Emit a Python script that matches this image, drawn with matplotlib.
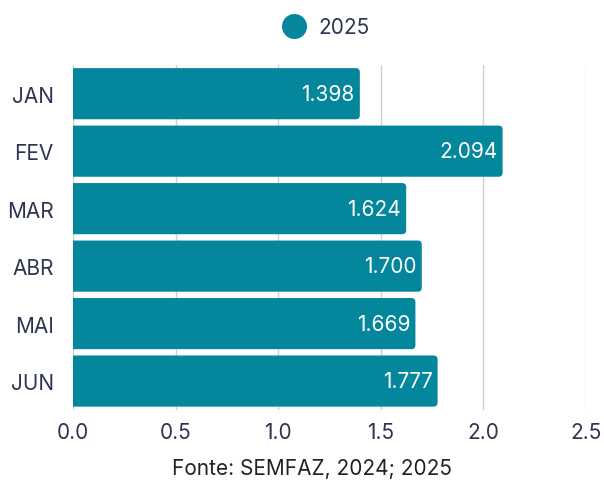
import matplotlib.pyplot as plt
from matplotlib.patches import FancyBboxPatch
from matplotlib.lines import Line2D

meses = ['JAN', 'FEV', 'MAR', 'ABR', 'MAI', 'JUN']
valores = [1.398, 2.094, 1.624, 1.700, 1.669, 1.777]
rotulos = ['1.398', '2.094', '1.624', '1.700', '1.669', '1.777']
xticks = [0.0, 0.5, 1.0, 1.5, 2.0, 2.5]

cor = '#04869C'
texto = '#2E3450'
fs = 15
plt.rcParams['font.family'] = ['Inter', 'DejaVu Sans']

fig = plt.figure(figsize=(6.04, 4.85), dpi=100)
ax = fig.add_axes([0.121, 0.153, 0.849, 0.711])

y = list(range(len(meses)))
barras = ax.barh(y, valores, height=0.89, color=cor, zorder=2)

# cantos arredondados à direita
for b in barras:
    x0, y0, w, h = b.get_x(), b.get_y(), b.get_width(), b.get_height()
    b.set_visible(False)
    p = FancyBboxPatch((x0 - 0.05, y0), w + 0.05, h,
                       boxstyle='round,pad=0,rounding_size=0.02',
                       mutation_aspect=3.5, facecolor=cor, edgecolor='none',
                       zorder=2, clip_on=True)
    ax.add_patch(p)

for yi, v, r in zip(y, valores, rotulos):
    ax.text(v - 0.025, yi, r, ha='right', va='center', color='white',
            fontsize=fs, zorder=3)

ax.set_xlim(0, 2.5)
ax.set_ylim(5.5, -0.5)
ax.set_xticks(xticks)
ax.set_xticklabels([f'{t:.1f}' for t in xticks])
ax.set_yticks(y)
ax.set_yticklabels(meses)
ax.tick_params(axis='both', length=0, labelsize=fs, labelcolor=texto)
ax.tick_params(axis='x', pad=9)
ax.tick_params(axis='y', pad=14)
ax.grid(axis='x', color='#D0D0D6', linewidth=1, zorder=0)
ax.set_axisbelow(True)
for s in ax.spines.values():
    s.set_visible(False)

h = Line2D([], [], marker='o', linestyle='none', markersize=17,
           markerfacecolor=cor, markeredgecolor=cor)
fig.legend([h], ['2025'], loc='center', bbox_to_anchor=(0.532, 0.942),
           frameon=False, fontsize=fs, labelcolor=texto,
           handletextpad=0.2)

fig.text(0.517, 0.033, 'Fonte: SEMFAZ, 2024; 2025', ha='center', va='center',
         fontsize=fs, color='#222222')

fig.savefig('out.png', dpi=100)
